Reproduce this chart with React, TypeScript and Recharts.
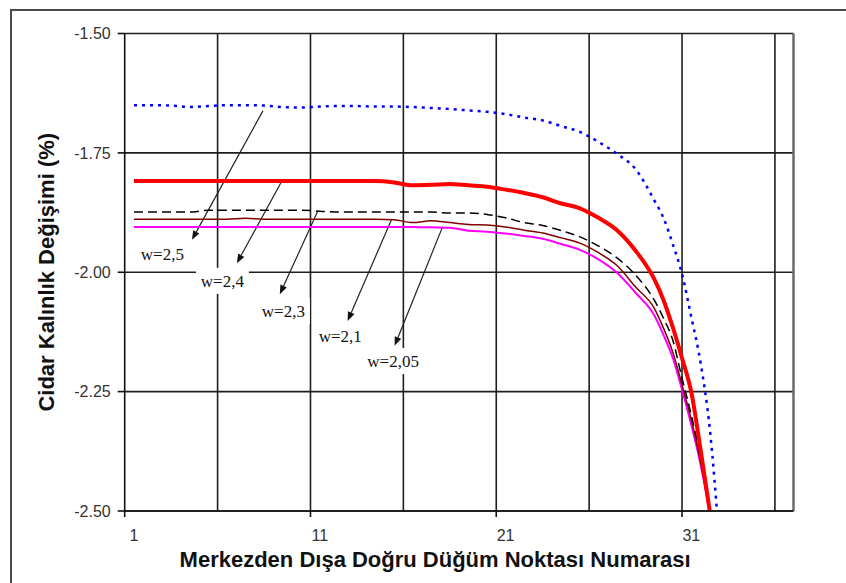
import React from 'react';
import { LineChart, Line, XAxis, YAxis, CartesianGrid, ReferenceLine, ReferenceDot } from 'recharts';

// node numbers (category centres); the last few are half steps where the curves fall fast
const nodeX = [
  1, 2, 3, 4, 5, 6, 7, 8, 9, 10, 11, 12, 13, 14, 15, 16, 17, 18, 19, 20,
  21, 22, 23, 24, 25, 26, 27, 28, 29, 29.5, 30, 30.5, 31, 31.5, 32, 32.5,
];

const w25 = [
  -1.65, -1.65, -1.651, -1.654, -1.652, -1.65, -1.65, -1.651, -1.654, -1.655,
  -1.653, -1.652, -1.652, -1.653, -1.653, -1.654, -1.656, -1.658, -1.661, -1.664,
  -1.669, -1.676, -1.682, -1.694, -1.706, -1.727, -1.752, -1.784, -1.849, -1.886,
  -1.941, -2.004, -2.094, -2.19, -2.33, -2.56,
];
const w24 = [
  -1.809, -1.809, -1.809, -1.809, -1.809, -1.809, -1.809, -1.809, -1.809, -1.809,
  -1.809, -1.809, -1.809, -1.809, -1.812, -1.818, -1.817, -1.815, -1.818, -1.821,
  -1.827, -1.834, -1.843, -1.856, -1.866, -1.886, -1.912, -1.955, -2.014, -2.058,
  -2.115, -2.18, -2.251, -2.372, -2.502, -2.64,
];
const w23 = [
  -1.874, -1.874, -1.874, -1.874, -1.87, -1.87, -1.87, -1.87, -1.87, -1.87,
  -1.872, -1.874, -1.874, -1.874, -1.874, -1.874, -1.874, -1.876, -1.876, -1.879,
  -1.886, -1.896, -1.902, -1.913, -1.926, -1.945, -1.97, -2.006, -2.058, -2.096,
  -2.142, -2.222, -2.299, -2.389, -2.498, -2.63,
];
const w21 = [
  -1.889, -1.889, -1.889, -1.889, -1.889, -1.889, -1.887, -1.889, -1.889, -1.889,
  -1.889, -1.889, -1.889, -1.889, -1.89, -1.896, -1.892, -1.896, -1.9, -1.901,
  -1.905, -1.912, -1.918, -1.928, -1.939, -1.959, -1.986, -2.031, -2.075, -2.117,
  -2.167, -2.236, -2.309, -2.397, -2.508, -2.64,
];
const w205 = [
  -1.905, -1.905, -1.905, -1.905, -1.905, -1.905, -1.905, -1.905, -1.905, -1.905,
  -1.905, -1.905, -1.905, -1.905, -1.905, -1.905, -1.906, -1.907, -1.913, -1.915,
  -1.919, -1.924, -1.93, -1.941, -1.953, -1.973, -2.001, -2.043, -2.09, -2.131,
  -2.179, -2.246, -2.32, -2.403, -2.508, -2.65,
];

const xTicks = [0.5, 10.5, 20.5, 30.5];
const yTicks = [-2.5, -2.25, -2, -1.75, -1.5];
const gridX = [5.5, 10.5, 15.5, 20.5, 25.5, 30.5, 35.5];

// callouts: text, arrow start (on the curve), arrow tip, text centre
const callouts = [
  { text: 'w=2,5', from: [7.94, -1.662], to: [4.12, -1.932], at: [2.53, -1.962] },
  { text: 'w=2,4', from: [8.96, -1.809], to: [6.54, -1.981], at: [5.76, -2.018] },
  { text: 'w=2,3', from: [10.89, -1.872], to: [8.85, -2.046], at: [9.04, -2.081] },
  { text: 'w=2,1', from: [14.87, -1.889], to: [12.5, -2.102], at: [12.1, -2.134] },
  { text: 'w=2,05', from: [17.61, -1.905], to: [15.03, -2.154], at: [14.95, -2.186] },
];

const rows = nodeX.map((x, i) => ({
  x,
  w25: w25[i],
  w24: w24[i],
  w23: w23[i],
  w21: w21[i],
  w205: w205[i],
}));

const SANS = '"Liberation Sans", Arial, sans-serif';
const SERIF = '"Liberation Serif", "Times New Roman", serif';

const XTick = (props: any) => {
  const { x, y, payload } = props;
  // labels sit on the category centre, half a category right of the tick mark
  return (
    <text x={x + 9.3} y={y} dy="0.71em" textAnchor="middle" fontSize={16} fill="#333" fontFamily={SANS}>
      {payload.value + 0.5}
    </text>
  );
};

const Arrow = (props: any) => {
  const { x1, y1, x2, y2 } = props;
  const a = Math.atan2(y2 - y1, x2 - x1);
  const len = 9;
  const half = 3.5;
  const bx = x2 - len * Math.cos(a);
  const by = y2 - len * Math.sin(a);
  const pts = `${x2},${y2} ${bx - half * Math.sin(a)},${by + half * Math.cos(a)} ${bx + half * Math.sin(a)},${by - half * Math.cos(a)}`;
  return (
    <g>
      <line x1={x1} y1={y1} x2={bx} y2={by} stroke="#222" strokeWidth={1.2} />
      <polygon points={pts} fill="#111" />
    </g>
  );
};

const calloutText = (text: string) => (props: any) => {
  const { cx, cy } = props;
  const w = text.length * 9 + 8;
  return (
    <g>
      <rect x={cx - w / 2} y={cy - 13} width={w} height={26} fill="#fff" />
      <text x={cx} y={cy} dy="0.35em" textAnchor="middle" fontSize={17} fill="#111" fontFamily={SERIF}>
        {text}
      </text>
    </g>
  );
};

const XTitle = (props: any) => {
  const vb = props.viewBox;
  return (
    <text x={vb.x + vb.width / 2 - 24} y={vb.y + 56} textAnchor="middle" fontSize={22} fontWeight="bold" fill="#111" fontFamily={SANS}>
      Merkezden Dışa Doğru Düğüm Noktası Numarası
    </text>
  );
};

const YTitle = (props: any) => {
  const vb = props.viewBox;
  const cx = 46.7;
  const cy = vb.y + vb.height / 2;
  return (
    <text x={cx} y={cy} dy="0.35em" textAnchor="middle" fontSize={22} fontWeight="bold" fill="#111" fontFamily={SANS} transform={`rotate(-90 ${cx} ${cy})`}>
      Cidar Kalınlık Değişimi (%)
    </text>
  );
};

export default function App() {
  return (
    <div style={{ position: 'fixed', left: 0, top: 0, width: 846, height: 583, overflow: 'hidden', background: '#fff' }}>
      <div style={{ position: 'absolute', left: 10, top: 8.5, width: 900, height: 640, border: '2px solid #4a4a4a' }} />
      <div style={{ position: 'absolute', left: 0, top: 0 }}>
        <LineChart width={846} height={583} data={rows} margin={{ top: 33.5, right: 52.5, bottom: 0, left: 0 }}>
          <CartesianGrid stroke="#1e1e1e" strokeWidth={1.6} verticalValues={gridX} horizontalValues={yTicks} />
          <XAxis
            dataKey="x"
            type="number"
            domain={[0.5, 36.5]}
            ticks={xTicks}
            tick={<XTick />}
            tickSize={6}
            tickMargin={13}
            height={72}
            axisLine={{ stroke: '#111', strokeWidth: 1.6 }}
            tickLine={{ stroke: '#111', strokeWidth: 1.6 }}
            label={{ content: XTitle }}
          />
          <YAxis
            type="number"
            domain={[-2.5, -1.5]}
            ticks={yTicks}
            allowDataOverflow
            width={124.7}
            tickSize={7}
            tickMargin={7}
            tickFormatter={(v: number) => v.toFixed(2)}
            tick={{ fontSize: 16, fill: '#333', fontFamily: SANS }}
            axisLine={{ stroke: '#111', strokeWidth: 1.6 }}
            tickLine={{ stroke: '#111', strokeWidth: 1.6 }}
            label={{ content: YTitle }}
          />
          <ReferenceLine x={36.5} stroke="#6a6a6a" strokeWidth={2.5} />
          {callouts.map((c) => (
            <ReferenceLine
              key={'a' + c.text}
              segment={[{ x: c.from[0], y: c.from[1] }, { x: c.to[0], y: c.to[1] }]}
              shape={Arrow}
            />
          ))}
          {callouts.map((c) => (
            <ReferenceDot key={'t' + c.text} x={c.at[0]} y={c.at[1]} r={1} shape={calloutText(c.text)} />
          ))}
          <Line dataKey="w25" type="monotone" stroke="#0000ff" strokeWidth={2.5} strokeDasharray="3 5" dot={false} isAnimationActive={false} />
          <Line dataKey="w205" type="monotone" stroke="#ff00ff" strokeWidth={2} dot={false} isAnimationActive={false} />
          <Line dataKey="w21" type="monotone" stroke="#800000" strokeWidth={1.5} dot={false} isAnimationActive={false} />
          <Line dataKey="w23" type="monotone" stroke="#000" strokeWidth={1.5} strokeDasharray="9 5" dot={false} isAnimationActive={false} />
          <Line dataKey="w24" type="monotone" stroke="#ff0000" strokeWidth={4} dot={false} isAnimationActive={false} />
        </LineChart>
      </div>
    </div>
  );
}
